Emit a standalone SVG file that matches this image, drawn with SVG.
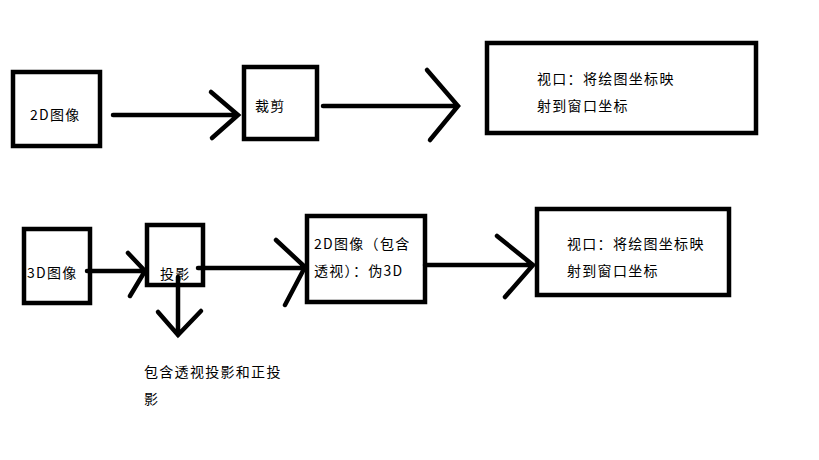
<svg xmlns="http://www.w3.org/2000/svg" width="819" height="460" viewBox="0 0 819 460">
<style>
.b{fill:#fff;stroke:#000;stroke-width:4.5}
.c{fill:none;stroke:#000;stroke-width:4.5;stroke-linecap:round;stroke-linejoin:miter}
text{font-family:"Noto Sans CJK SC","Liberation Sans",sans-serif;font-size:14px;letter-spacing:1.3px;fill:#000}
</style>
<rect width="819" height="460" fill="#fff"/>
<g id="n1"><rect class="b" x="13" y="72" width="87" height="74"/><text x="30" y="120">2D图像</text></g>
<g id="n2"><rect class="b" x="244" y="67" width="73" height="72"/><text x="255" y="111">裁剪</text></g>
<g id="n3"><rect class="b" x="487" y="43" width="269" height="90"/><text x="537" y="84">视口：将绘图坐标映</text><text x="537" y="111">射到窗口坐标</text></g>
<g id="n4"><rect class="b" x="24" y="229" width="66" height="74"/><text x="27" y="278">3D图像</text></g>
<g id="n5"><rect class="b" x="147" y="225" width="56" height="60"/><text x="160" y="279">投影</text></g>
<g id="n6"><rect class="b" x="307" y="216" width="118" height="86"/><text x="314" y="249">2D图像（包含</text><text x="314" y="276">透视）：伪3D</text></g>
<g id="n7"><rect class="b" x="537" y="209" width="192" height="86"/><text x="567" y="249">视口：将绘图坐标映</text><text x="567" y="276">射到窗口坐标</text></g>
<g id="n8"><text x="144" y="377">包含透视投影和正投</text><text x="144" y="404">影</text></g>
<g id="connectors">
<path class="c" d="M113 115H238M211 92L238 115L212 138"/>
<path class="c" d="M323 106H458M427 70L458 106L430 140"/>
<path class="c" d="M87 271H145M128 253L145 271L130 296"/>
<path class="c" d="M198 268H304M276 240L305 267L285 305"/>
<path class="c" d="M178 277V335M158 312L178 335L201 311"/>
<path class="c" d="M425 265H533M497 236L533 265L505 297"/>
</g>
</svg>
